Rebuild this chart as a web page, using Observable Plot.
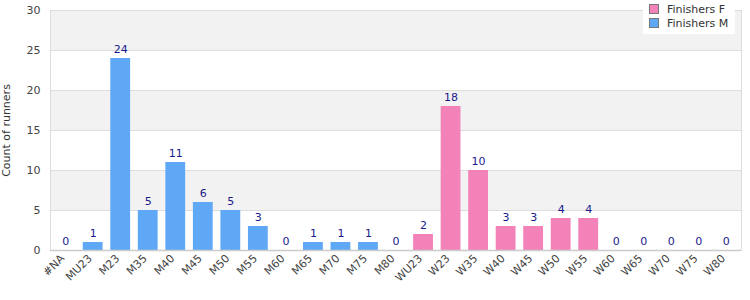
<!DOCTYPE html>
<html>
<head>
<meta charset="utf-8">
<script src="https://cdn.jsdelivr.net/npm/d3@7"></script>
<script src="https://cdn.jsdelivr.net/npm/@observablehq/plot@0.6"></script>
<style>
  html, body { margin: 0; padding: 0; background: #fff; }
  #wrap { position: relative; width: 750px; height: 300px; font-family: "DejaVu Sans", sans-serif; }
  #legend { position: absolute; left: 643px; top: 0px; width: 92px; height: 34px; background: #fff; font-size: 11px; color: #333; }
  .li { position: absolute; left: 6px; height: 12px; line-height: 12px; }
  .sw { display: inline-block; width: 8px; height: 8px; border: 1px solid #777; margin-right: 8px; vertical-align: -1px; }
</style>
</head>
<body>
<div id="wrap"><div id="legend"></div></div>
<script>
const menCategories = ["#NA","MU23","M23","M35","M40","M45","M50","M55","M60","M65","M70","M75","M80"];
const menCounts     = [0, 1, 24, 5, 11, 6, 5, 3, 0, 1, 1, 1, 0];
const womenCategories = ["WU23","W23","W35","W40","W45","W50","W55","W60","W65","W70","W75","W80"];
const womenCounts     = [2, 18, 10, 3, 3, 4, 4, 0, 0, 0, 0, 0];
const seriesNames = ["Finishers F", "Finishers M"];
const seriesColors = ["#f282b8", "#5fa8f5"];
const yTicks = [0, 5, 10, 15, 20, 25, 30];
const yBands = [[0,5],[5,10],[10,15],[15,20],[20,25],[25,30]];

const data = [
  ...menCategories.map((c, i) => ({category: c, count: menCounts[i], series: seriesNames[1]})),
  ...womenCategories.map((c, i) => ({category: c, count: womenCounts[i], series: seriesNames[0]}))
];
const categories = [...menCategories, ...womenCategories];
const bands = yBands.filter((b, i) => i % 2 === 1).map(b => ({y1: b[0], y2: b[1]}));

const chart = Plot.plot({
  width: 750,
  height: 300,
  marginLeft: 50,
  marginRight: 9,
  marginTop: 10,
  marginBottom: 50,
  style: {fontFamily: "DejaVu Sans, sans-serif", fontSize: "11px", color: "#444", background: "#fff"},
  x: {domain: categories, paddingInner: 0.28, paddingOuter: 0.19, round: false, label: null},
  y: {domain: [0, 30], ticks: yTicks, label: null},
  color: {domain: seriesNames, range: seriesColors},
  marks: [
    Plot.rect(bands, {y1: "y1", y2: "y2", fill: "#f2f2f2"}),
    Plot.ruleY(yTicks, {stroke: "#dddddd", strokeWidth: 1}),
    Plot.frame({stroke: "#dddddd", fill: "none"}),
    Plot.barY(data, {x: "category", y: "count", fill: "series"}),
    Plot.text(data, {x: "category", y: "count", text: d => String(d.count), dy: -9, fill: "#1a1a8c", fontSize: 11}),
    Plot.ruleY([0], {stroke: "#cccccc", strokeWidth: 1.5}),
    Plot.axisY({ticks: yTicks, tickSize: 0, tickPadding: 10, label: null, fill: "#444"}),
    Plot.axisX({tickRotate: -45, tickSize: 0, tickPadding: 6, dx: -3, label: null, fill: "#444"}),
    Plot.text(["Count of runners"], {frameAnchor: "left", textAnchor: "middle", rotate: -90, dx: -44, fill: "#333", fontSize: 11})
  ]
});
document.getElementById("wrap").prepend(chart);

const legend = document.getElementById("legend");
seriesNames.forEach((name, i) => {
  const row = document.createElement("div");
  row.className = "li";
  row.style.top = (4 + i * 14) + "px";
  row.innerHTML = `<span class="sw" style="background:${seriesColors[i]}"></span>${name}`;
  legend.appendChild(row);
});
</script>
</body>
</html>
